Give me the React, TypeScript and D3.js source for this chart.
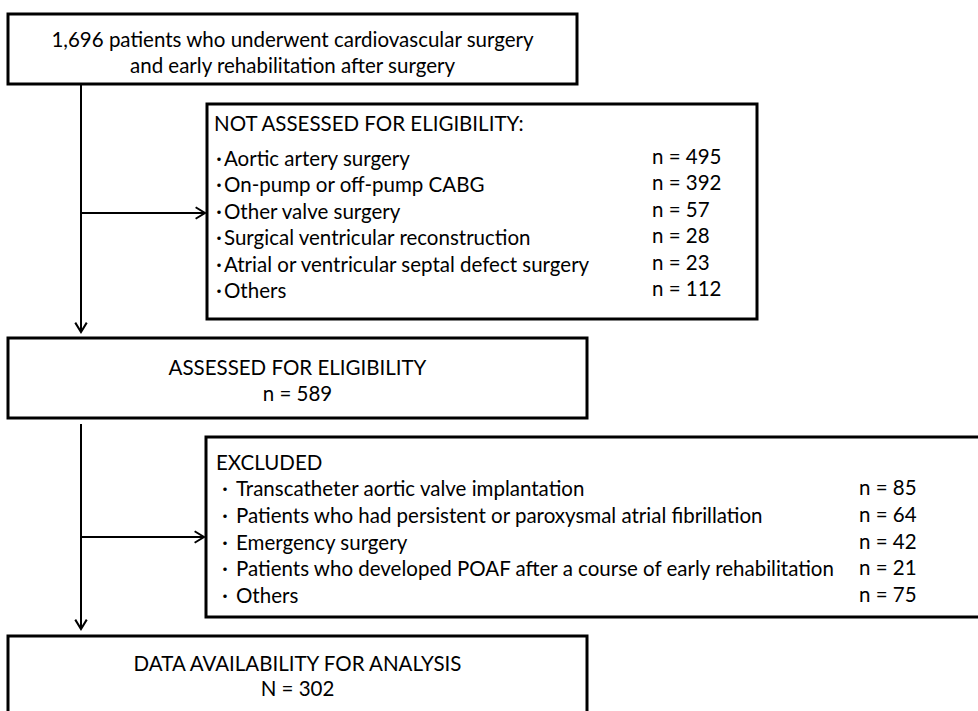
import React from 'react';
import * as d3 from 'd3';

// flow counts
const startLines = ['1,696 patients who underwent cardiovascular surgery', 'and early rehabilitation after surgery'];
const notAssessedTitle = 'NOT ASSESSED FOR ELIGIBILITY:';
const notAssessedLabels = [
  'Aortic artery surgery',
  'On-pump or off-pump CABG',
  'Other valve surgery',
  'Surgical ventricular reconstruction',
  'Atrial or ventricular septal defect surgery',
  'Others',
];
const notAssessedCounts = [495, 392, 57, 28, 23, 112];
const assessedLines = ['ASSESSED FOR ELIGIBILITY', 'n = 589'];
const excludedTitle = 'EXCLUDED';
const excludedLabels = [
  'Transcatheter aortic valve implantation',
  'Patients who had persistent or paroxysmal atrial fibrillation',
  'Emergency surgery',
  'Patients who developed POAF after a course of early rehabilitation',
  'Others',
];
const excludedCounts = [85, 64, 42, 21, 75];
const finalLines = ['DATA AVAILABILITY FOR ANALYSIS', 'N = 302'];

const W = 978;
const H = 711;
const FONT = 'Lato, Carlito, Calibri, sans-serif';
const FS = 20.5;

const boxes = {
  start: { x: 8, y: 14, w: 569, h: 70 },
  notAssessed: { x: 207, y: 104, w: 550, h: 215 },
  assessed: { x: 8, y: 338, w: 579, h: 80 },
  excluded: { x: 206, y: 437, w: 790, h: 180 },
  final: { x: 8, y: 636, w: 579, h: 90 },
};

const spineX = 81;

const Arrow = ({ x1, y1, x2, y2 }: { x1: number; y1: number; x2: number; y2: number }) => {
  const ang = Math.atan2(y2 - y1, x2 - x1);
  const len = 11;
  const spread = 0.55;
  const a = [x2 - len * Math.cos(ang - spread), y2 - len * Math.sin(ang - spread)];
  const b = [x2 - len * Math.cos(ang + spread), y2 - len * Math.sin(ang + spread)];
  return (
    <g stroke="#000" strokeWidth={2} fill="none">
      <line x1={x1} y1={y1} x2={x2} y2={y2} />
      <polyline points={`${a[0]},${a[1]} ${x2},${y2} ${b[0]},${b[1]}`} />
    </g>
  );
};

const Box = ({ b }: { b: { x: number; y: number; w: number; h: number } }) => (
  <rect x={b.x} y={b.y} width={b.w} height={b.h} fill="#fff" stroke="#000" strokeWidth={3} />
);

const App = () => {
  // row positions inside the two side boxes
  const naRows = d3.scalePoint<number>()
    .domain(d3.range(notAssessedLabels.length))
    .range([158, 290]);
  const exRows = d3.scalePoint<number>()
    .domain(d3.range(excludedLabels.length))
    .range([488, 595]);

  const sb = boxes.start;
  const ab = boxes.assessed;
  const fb = boxes.final;
  const nb = boxes.notAssessed;
  const eb = boxes.excluded;

  return (
    <svg width={W} height={H} style={{ position: 'absolute', left: 0, top: 0, background: '#fff' }}
      fontFamily={FONT} fontSize={FS}>
      <rect width={W} height={H} fill="#fff" />

      {/* spine and arrows */}
      <Arrow x1={spineX} y1={sb.y + sb.h} x2={spineX} y2={332} />
      <Arrow x1={spineX} y1={213} x2={nb.x - 2} y2={213} />
      <Arrow x1={spineX} y1={424} x2={spineX} y2={629} />
      <Arrow x1={spineX} y1={537} x2={eb.x - 2} y2={537} />

      <Box b={sb} />
      <Box b={nb} />
      <Box b={ab} />
      <Box b={eb} />
      <Box b={fb} />

      {startLines.map((t, i) => (
        <text key={t} x={sb.x + sb.w / 2} y={39 + i * 26} textAnchor="middle" dominantBaseline="central">{t}</text>
      ))}

      <text x={214} y={123} dominantBaseline="central">{notAssessedTitle}</text>
      {notAssessedLabels.map((t, i) => (
        <g key={t}>
          <text x={219} y={naRows(i)} textAnchor="middle" dominantBaseline="central"
            fontFamily="'Noto Sans CJK JP', sans-serif" fontSize={18} fontWeight="bold">･</text>
          <text x={224} y={naRows(i)} dominantBaseline="central">{t}</text>
          <text x={652} y={(naRows(i) as number) - 2} dominantBaseline="central">n = {notAssessedCounts[i]}</text>
        </g>
      ))}

      {assessedLines.map((t, i) => (
        <text key={t} x={ab.x + ab.w / 2} y={367 + i * 26} textAnchor="middle" dominantBaseline="central">{t}</text>
      ))}

      <text x={216} y={462} dominantBaseline="central">{excludedTitle}</text>
      {excludedLabels.map((t, i) => (
        <g key={t}>
          <text x={225} y={exRows(i)} textAnchor="middle" dominantBaseline="central"
            fontFamily="'Noto Sans CJK JP', sans-serif" fontSize={18} fontWeight="bold">･</text>
          <text x={236} y={exRows(i)} dominantBaseline="central">{t}</text>
          <text x={859} y={(exRows(i) as number) - 1} dominantBaseline="central">n = {excludedCounts[i]}</text>
        </g>
      ))}

      {finalLines.map((t, i) => (
        <text key={t} x={fb.x + fb.w / 2} y={663 + i * 25} textAnchor="middle" dominantBaseline="central">{t}</text>
      ))}
    </svg>
  );
};

export default App;
